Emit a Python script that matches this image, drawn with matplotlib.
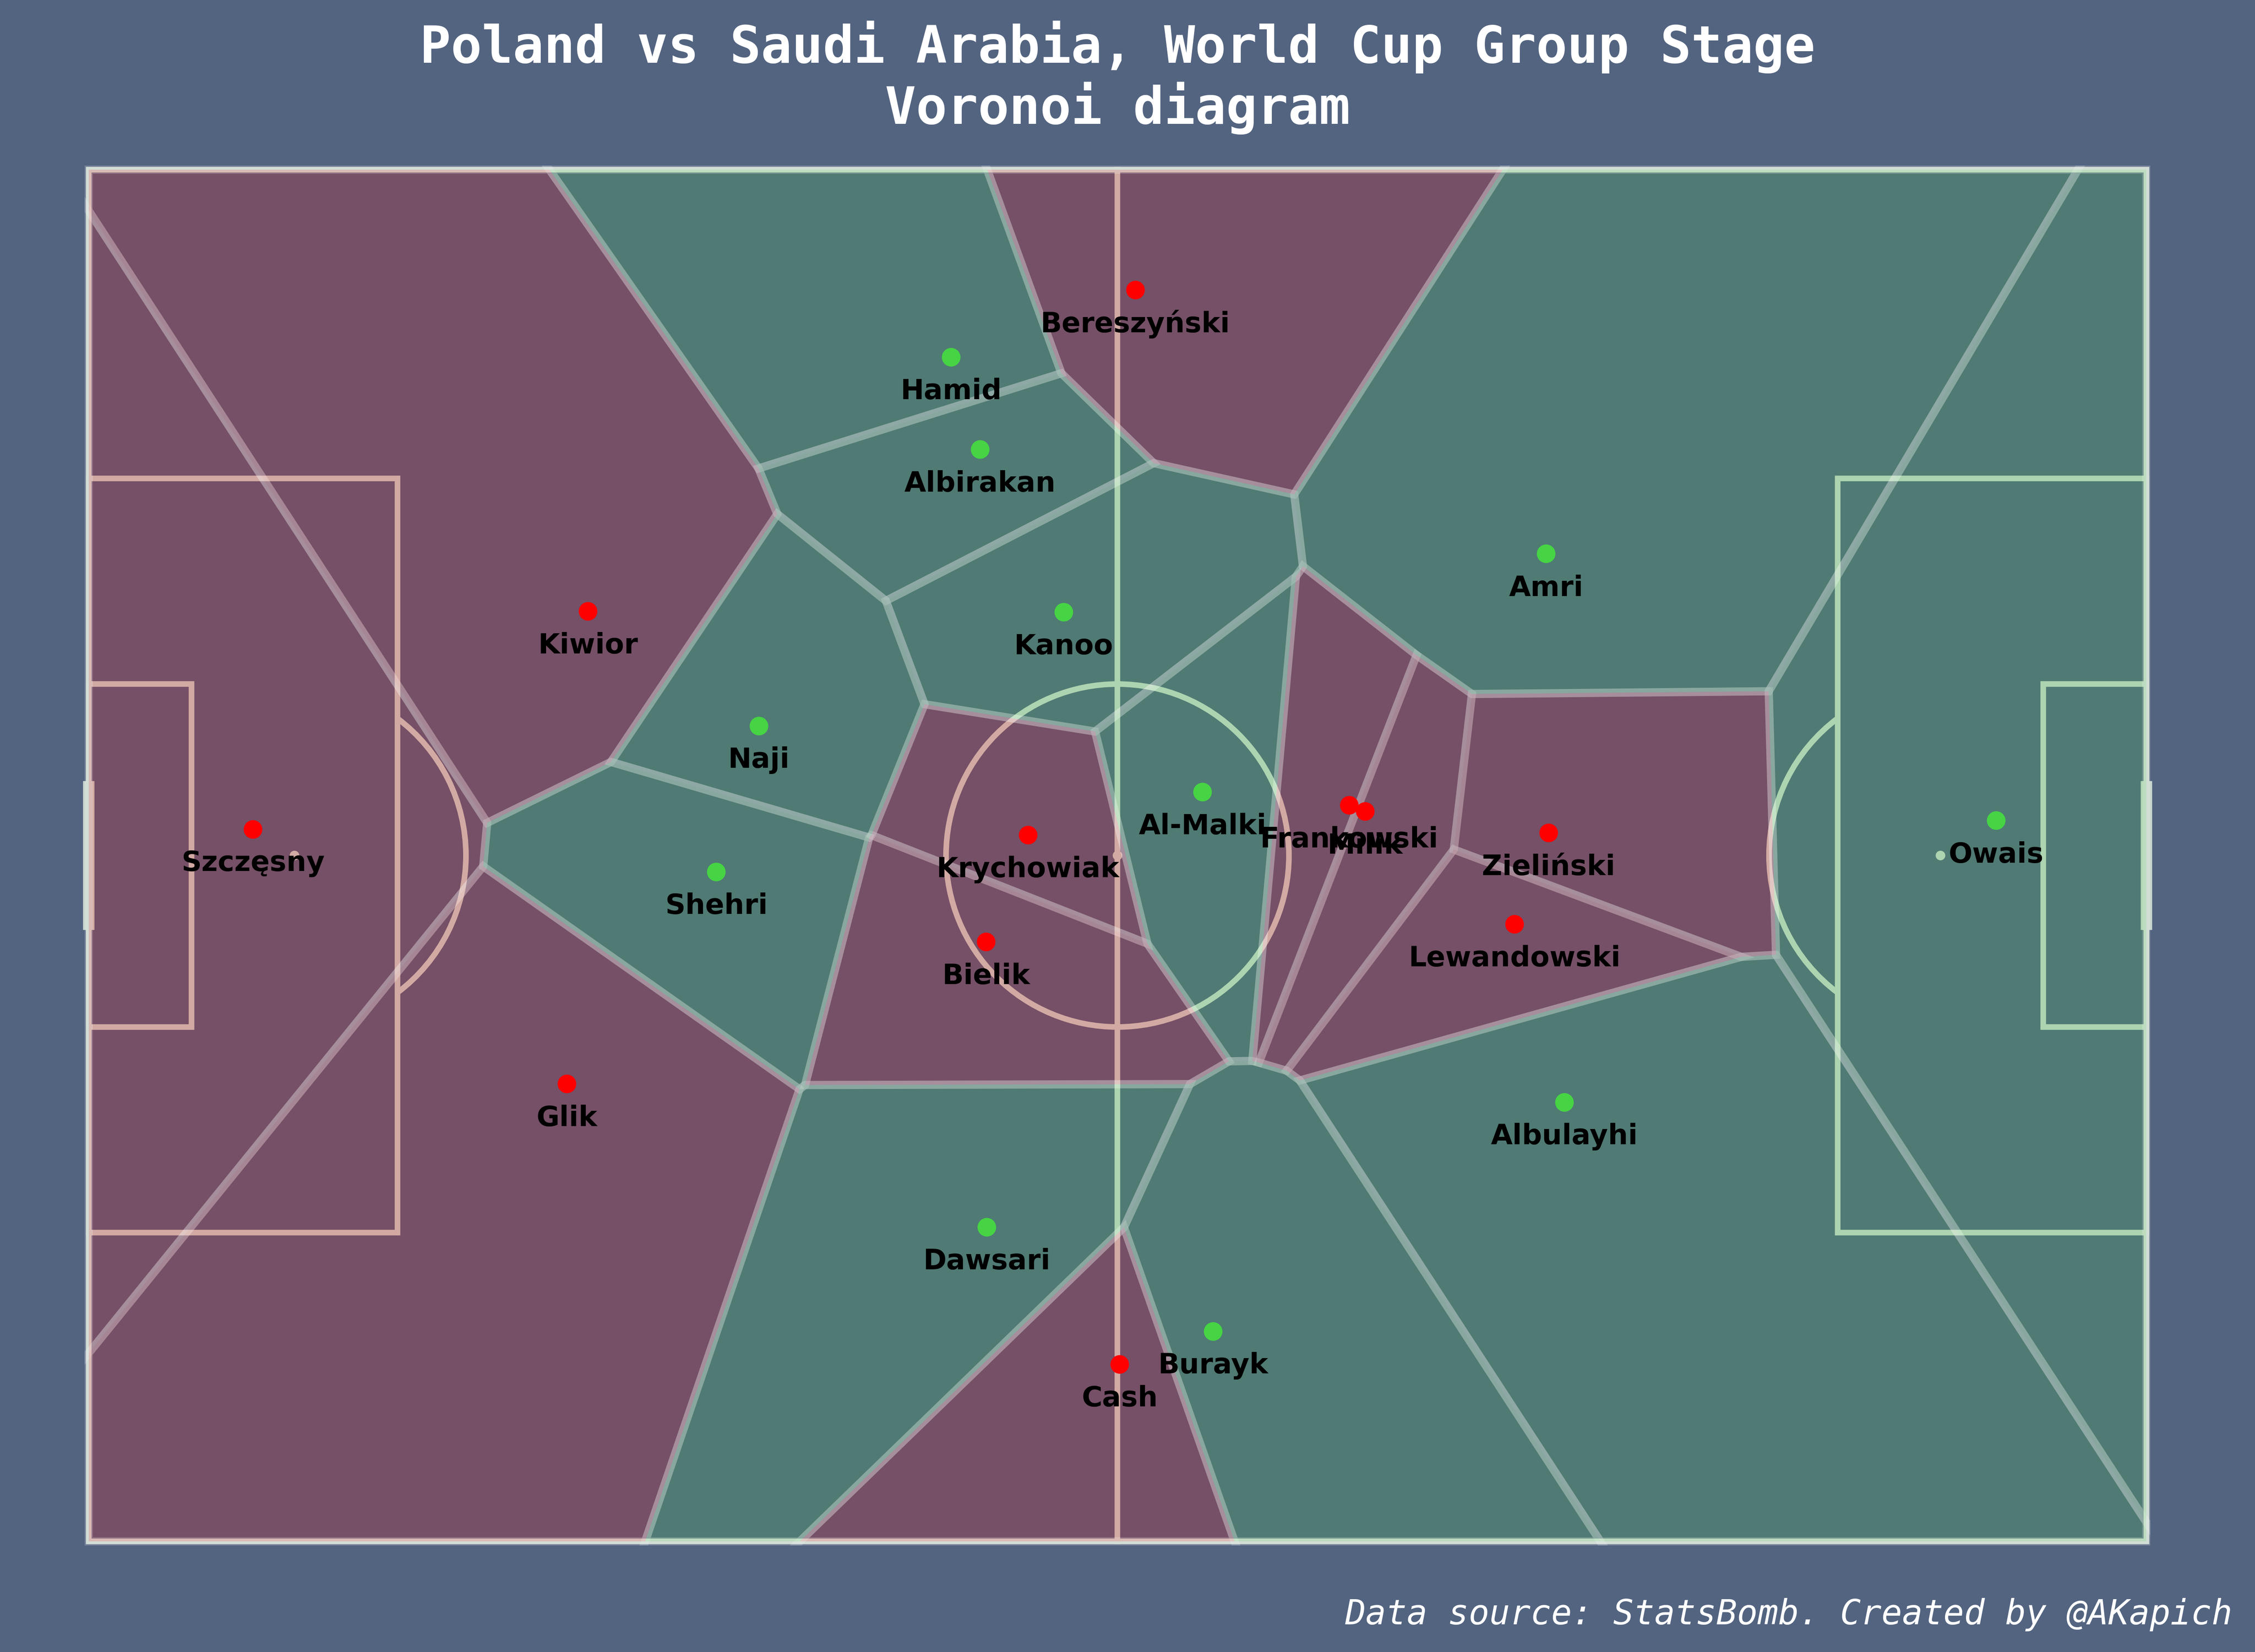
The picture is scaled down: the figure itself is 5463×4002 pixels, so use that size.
import numpy as np
import matplotlib
matplotlib.use('Agg')
from matplotlib import pyplot as plt
from matplotlib.patches import Polygon, Circle, Arc, Rectangle

# player positions (StatsBomb coords, 120 x 80, y downwards)
poland_names = ['Szczęsny', 'Kiwior', 'Glik', 'Bereszyński', 'Krychowiak', 'Bielik',
                'Cash', 'Frankowski', 'Milik', 'Zieliński', 'Lewandowski']
poland_x = [9.58, 29.12, 27.89, 61.05, 54.79, 52.34, 60.13, 73.52, 74.45, 85.15, 83.16]
poland_y = [38.48, 25.76, 53.32, 7.02, 38.81, 45.04, 69.68, 37.07, 37.43, 38.68, 44.01]

saudi_names = ['Hamid', 'Albirakan', 'Kanoo', 'Naji', 'Shehri', 'Al-Malki',
               'Amri', 'Albulayhi', 'Dawsari', 'Burayk', 'Owais']
saudi_x = [50.30, 51.99, 56.87, 39.09, 36.60, 64.96, 85.00, 86.07, 52.38, 65.58, 111.25]
saudi_y = [10.94, 16.32, 25.81, 32.45, 40.96, 36.30, 22.40, 54.40, 61.68, 67.76, 37.96]

bg_color = '#536480'
line_color = '#c7d5cc'
poland_color = '#ff0000'
saudi_color = '#46d444'

PITCH_LENGTH, PITCH_WIDTH = 120, 80


def clip_halfplane(poly, a, b, c):
    # keep the part of poly where a*x + b*y <= c
    out = []
    n = len(poly)
    for i in range(n):
        p, q = poly[i], poly[(i + 1) % n]
        fp = a * p[0] + b * p[1] - c
        fq = a * q[0] + b * q[1] - c
        if fp <= 0:
            out.append(p)
        if fp * fq < 0:
            t = fp / (fp - fq)
            out.append((p[0] + t * (q[0] - p[0]), p[1] + t * (q[1] - p[1])))
    return out


def voronoi_cells(xs, ys):
    pts = np.column_stack([xs, ys])
    cells = []
    for i, p in enumerate(pts):
        poly = [(0, 0), (PITCH_LENGTH, 0), (PITCH_LENGTH, PITCH_WIDTH), (0, PITCH_WIDTH)]
        for j, q in enumerate(pts):
            if i == j:
                continue
            a, b = 2 * (q - p)
            c = q.dot(q) - p.dot(p)
            poly = clip_halfplane(poly, a, b, c)
        cells.append(np.array(poly))
    return cells


fig = plt.figure(figsize=(5463 / 350, 4002 / 350), dpi=350, facecolor=bg_color)
ax = fig.add_axes([215 / 5463, 1 - 3734 / 4002, 4984.5 / 5463, 3323 / 4002])
ax.set_facecolor(bg_color)
ax.set_xlim(0, PITCH_LENGTH)
ax.set_ylim(PITCH_WIDTH, 0)
ax.axis('off')

# pitch markings (underneath the voronoi polygons)
lw = 2.8
kw = dict(fill=False, ec=line_color, lw=lw, zorder=1, clip_on=False)
ax.add_patch(Rectangle((0, 0), 120, 80, **kw))
ax.plot([60, 60], [0, 80], color=line_color, lw=lw, zorder=1, clip_on=False)
ax.add_patch(Circle((60, 40), 10, **kw))
for x0, w in [(0, 18), (102, 18)]:
    ax.add_patch(Rectangle((x0, 18), w, 44, **kw))
for x0, w in [(0, 6), (114, 6)]:
    ax.add_patch(Rectangle((x0, 30), w, 20, **kw))
ang = np.degrees(np.arccos(0.6))
ax.add_patch(Arc((12, 40), 20, 20, theta1=-ang, theta2=ang, ec=line_color, lw=lw, zorder=1, clip_on=False))
ax.add_patch(Arc((108, 40), 20, 20, theta1=180 - ang, theta2=180 + ang, ec=line_color, lw=lw, zorder=1, clip_on=False))
for sx in [12, 60, 108]:
    ax.add_patch(Circle((sx, 40), 0.28, fc=line_color, ec='none', zorder=1, clip_on=False))
for gx in [0, 120]:
    ax.plot([gx, gx], [36, 44], color=line_color, lw=5.7, zorder=1, clip_on=False)

# voronoi cells from both teams together
all_x = poland_x + saudi_x
all_y = poland_y + saudi_y
cells = voronoi_cells(all_x, all_y)
n_pol = len(poland_x)
for i, cell in enumerate(cells):
    color = poland_color if i < n_pol else saudi_color
    ax.add_patch(Polygon(cell, closed=True, fc=color, ec='white', lw=4.1,
                         alpha=0.2, zorder=2, clip_on=False))

# players
ax.scatter(poland_x, poland_y, s=86, color=poland_color, edgecolors='none', zorder=3)
ax.scatter(saudi_x, saudi_y, s=86, color=saudi_color, edgecolors='none', zorder=3)
for names, xs, ys in [(poland_names, poland_x, poland_y), (saudi_names, saudi_x, saudi_y)]:
    for name, x, y in zip(names, xs, ys):
        ax.text(x, y + 2, name, ha='center', va='center', fontsize=14,
                fontweight='bold', color='black', zorder=4)

title_x = 2707 / 5463
fig.text(title_x, 1 - 152 / 4002, 'Poland vs Saudi Arabia, World Cup Group Stage',
         ha='center', va='baseline', fontsize=25.7, family='DejaVu Sans Mono',
         fontweight='bold', color='white')
fig.text(title_x, 1 - 300 / 4002, 'Voronoi diagram',
         ha='center', va='baseline', fontsize=25.7, family='DejaVu Sans Mono',
         fontweight='bold', color='white')
fig.text(5408 / 5463, 1 - 3935 / 4002, 'Data source: StatsBomb. Created by @AKapich',
         ha='right', va='baseline', fontsize=17.1, family='DejaVu Sans Mono',
         style='italic', color='white')

fig.savefig('out.png', dpi=350, facecolor=bg_color)
